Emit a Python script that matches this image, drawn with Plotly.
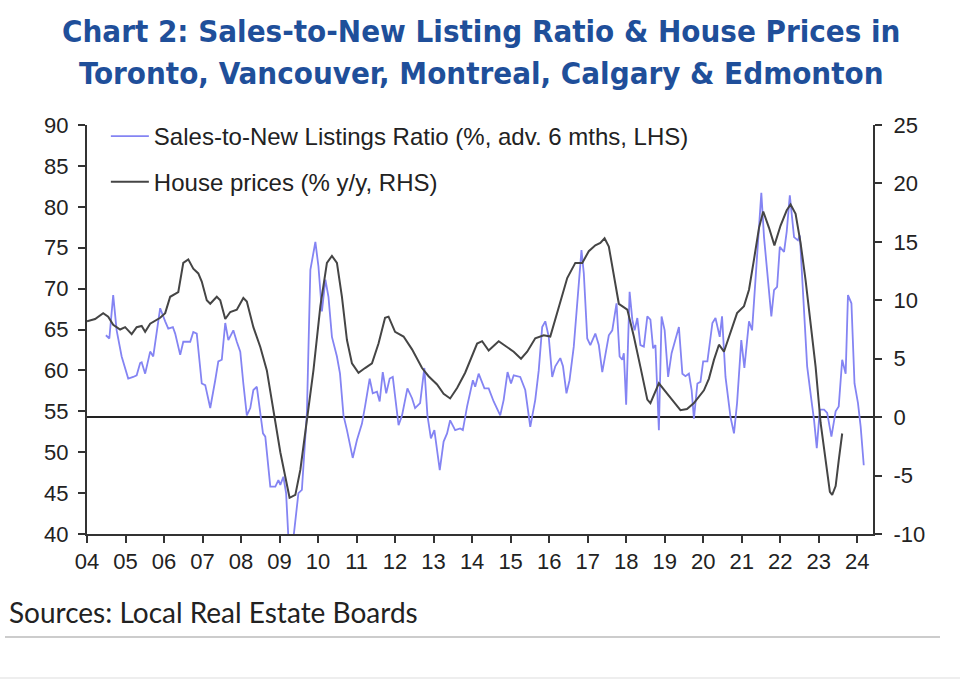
import plotly.graph_objects as go

# House prices (% y/y, RHS) - decimal year, value
hp_year = [2004.00, 2004.21, 2004.42, 2004.55, 2004.68, 2004.86, 2004.99, 2005.16, 2005.29, 2005.42,
           2005.51, 2005.64, 2005.90, 2006.03, 2006.16, 2006.37, 2006.50, 2006.63, 2006.76, 2006.89,
           2006.98, 2007.11, 2007.20, 2007.37, 2007.46, 2007.59, 2007.72, 2007.89, 2008.06, 2008.15,
           2008.32, 2008.50, 2008.67, 2008.84, 2009.02, 2009.26, 2009.41, 2009.54, 2009.71, 2009.88,
           2010.06, 2010.23, 2010.36, 2010.49, 2010.62, 2010.75, 2010.88, 2011.05, 2011.22, 2011.40,
           2011.57, 2011.74, 2011.83, 2012.00, 2012.22, 2012.44, 2012.70, 2012.87, 2013.09, 2013.26,
           2013.43, 2013.61, 2013.82, 2014.00, 2014.13, 2014.26, 2014.43, 2014.69, 2014.91, 2015.08,
           2015.27, 2015.43, 2015.64, 2015.86, 2016.03, 2016.21, 2016.47, 2016.68, 2016.86, 2017.03,
           2017.20, 2017.33, 2017.44, 2017.55, 2017.68, 2017.81, 2018.03, 2018.20, 2018.37, 2018.55,
           2018.63, 2018.85, 2019.07, 2019.24, 2019.41, 2019.58, 2019.76, 2020.02, 2020.15, 2020.28,
           2020.41, 2020.54, 2020.71, 2020.88, 2021.06, 2021.19, 2021.32, 2021.45, 2021.56, 2021.71,
           2021.85, 2022.01, 2022.17, 2022.27, 2022.40, 2022.53, 2022.66, 2022.79, 2022.92, 2023.05,
           2023.18, 2023.29, 2023.35, 2023.44, 2023.52, 2023.61]
hp_val = [8.2, 8.4, 8.9, 8.6, 7.9, 7.5, 7.7, 7.1, 7.7, 7.8,
          7.3, 8.0, 8.5, 8.9, 10.3, 10.7, 13.2, 13.5, 12.7, 12.3,
          11.6, 10.0, 9.7, 10.3, 10.0, 8.4, 9.0, 9.2, 10.2, 9.9,
          7.7, 6.0, 4.0, 0.6, -3.0, -6.9, -6.65, -4.5, -0.2, 4.0,
          9.5, 13.2, 13.8, 13.2, 10.3, 6.6, 4.6, 3.8, 4.2, 4.6,
          6.3, 8.5, 8.6, 7.3, 6.9, 5.8, 4.2, 3.5, 2.8, 2.0,
          1.6, 2.5, 3.8, 5.2, 6.3, 6.5, 5.7, 6.5, 6.0, 5.6,
          5.0, 5.6, 6.75, 7.0, 6.9, 8.9, 11.9, 13.2, 13.2, 14.2,
          14.7, 14.9, 15.3, 14.6, 12.0, 9.7, 9.2, 6.9, 4.3, 1.5,
          1.2, 2.9, 2.0, 1.3, 0.6, 0.7, 1.2, 2.3, 3.3, 4.9,
          6.2, 5.6, 7.2, 8.9, 9.5, 10.9, 13.5, 16.2, 17.6, 16.2,
          14.7, 16.4, 17.7, 18.2, 17.4, 14.9, 11.7, 8.0, 4.3, -0.5,
          -3.9, -6.4, -6.65, -5.9, -3.7, -1.4]

# Sales-to-New Listings Ratio (%, adv. 6 mths, LHS)
snlr_year = [2004.49, 2004.58, 2004.68, 2004.77, 2004.90, 2005.07, 2005.20, 2005.29, 2005.38, 2005.42,
             2005.51, 2005.64, 2005.72, 2005.90, 2006.03, 2006.11, 2006.23, 2006.29, 2006.42, 2006.50,
             2006.68, 2006.76, 2006.85, 2006.98, 2007.07, 2007.20, 2007.33, 2007.41, 2007.50, 2007.59,
             2007.67, 2007.80, 2007.89, 2007.98, 2008.06, 2008.15, 2008.24, 2008.32, 2008.41, 2008.50,
             2008.57, 2008.63, 2008.76, 2008.89, 2008.97, 2009.02, 2009.10, 2009.17, 2009.23, 2009.36,
             2009.49, 2009.58, 2009.71, 2009.80, 2009.93, 2010.01, 2010.10, 2010.19, 2010.27, 2010.36,
             2010.49, 2010.57, 2010.66, 2010.75, 2010.90, 2011.01, 2011.14, 2011.22, 2011.34, 2011.42,
             2011.53, 2011.60, 2011.68, 2011.77, 2011.86, 2011.94, 2012.09, 2012.18, 2012.32, 2012.44,
             2012.52, 2012.65, 2012.76, 2012.84, 2012.93, 2013.02, 2013.16, 2013.26, 2013.35, 2013.43,
             2013.56, 2013.69, 2013.76, 2013.87, 2014.02, 2014.08, 2014.17, 2014.32, 2014.43, 2014.56,
             2014.73, 2014.82, 2014.92, 2015.01, 2015.08, 2015.25, 2015.38, 2015.51, 2015.64, 2015.73,
             2015.82, 2015.90, 2015.99, 2016.08, 2016.16, 2016.29, 2016.36, 2016.45, 2016.53, 2016.64,
             2016.73, 2016.84, 2016.90, 2016.99, 2017.07, 2017.20, 2017.29, 2017.38, 2017.46, 2017.55,
             2017.64, 2017.75, 2017.83, 2017.90, 2017.94, 2018.00, 2018.09, 2018.16, 2018.22, 2018.29,
             2018.37, 2018.46, 2018.55, 2018.63, 2018.70, 2018.76, 2018.85, 2018.92, 2019.00, 2019.09,
             2019.18, 2019.28, 2019.37, 2019.46, 2019.54, 2019.63, 2019.70, 2019.76, 2019.85, 2019.93,
             2020.00, 2020.11, 2020.24, 2020.32, 2020.43, 2020.49, 2020.58, 2020.71, 2020.80, 2020.88,
             2020.99, 2021.07, 2021.19, 2021.27, 2021.36, 2021.45, 2021.51, 2021.58, 2021.68, 2021.77,
             2021.84, 2021.92, 2021.99, 2022.10, 2022.17, 2022.25, 2022.36, 2022.46, 2022.51, 2022.60,
             2022.70, 2022.81, 2022.88, 2022.95, 2023.03, 2023.14, 2023.22, 2023.33, 2023.44, 2023.52,
             2023.61, 2023.70, 2023.76, 2023.85, 2023.93, 2024.02, 2024.09, 2024.17]
snlr_val = [64.3, 63.9, 69.2, 64.9, 61.7, 59.0, 59.2, 59.4, 60.9, 61.0,
            59.6, 62.3, 61.7, 67.6, 66.0, 65.1, 65.3, 64.5, 61.9, 63.5,
            63.5, 64.7, 64.5, 58.4, 58.2, 55.4, 58.8, 61.1, 61.3, 65.8,
            63.7, 64.9, 63.5, 62.3, 58.4, 54.5, 55.4, 57.6, 58.0, 54.5,
            52.3, 51.9, 45.8, 45.8, 46.6, 46.0, 47.0, 45.0, 39.5, 39.5,
            45.0, 45.4, 54.8, 72.3, 75.7, 72.7, 67.2, 71.1, 69.0, 64.1,
            61.7, 59.6, 54.5, 52.7, 49.3, 51.5, 53.5, 55.6, 59.0, 57.2,
            57.4, 56.2, 59.8, 57.2, 59.0, 59.2, 53.3, 54.5, 57.8, 56.6,
            55.4, 56.0, 60.3, 54.5, 51.7, 52.7, 47.8, 51.3, 52.3, 53.9,
            52.7, 52.9, 52.7, 55.6, 58.8, 58.0, 59.6, 57.8, 57.8, 56.2,
            54.5, 56.4, 59.8, 58.4, 59.4, 59.2, 57.6, 53.1, 56.4, 60.0,
            65.3, 66.0, 64.1, 59.2, 60.5, 61.5, 60.5, 57.2, 58.8, 62.9,
            68.2, 74.7, 71.9, 63.9, 63.1, 64.5, 63.1, 59.8, 61.9, 64.3,
            64.9, 68.2, 61.7, 61.3, 62.1, 55.8, 69.6, 66.2, 64.9, 66.4,
            63.1, 62.9, 66.6, 66.2, 62.7, 63.1, 52.7, 66.6, 64.9, 59.2,
            62.1, 63.7, 65.3, 59.6, 59.3, 59.6, 57.6, 54.1, 58.4, 58.6,
            61.1, 61.1, 65.8, 66.4, 64.1, 66.6, 59.2, 54.3, 52.3, 56.0,
            63.7, 60.3, 66.0, 64.9, 71.1, 77.2, 81.7, 76.3, 71.1, 66.6,
            69.8, 70.2, 75.1, 74.5, 77.0, 81.4, 76.3, 75.9, 76.5, 69.0,
            60.5, 56.4, 53.9, 50.5, 55.2, 55.2, 54.8, 51.9, 55.0, 55.6,
            61.3, 59.6, 69.2, 68.2, 58.4, 56.0, 53.1, 48.4]

x_tickvals = list(range(2004, 2025))
x_ticktext = ["%02d" % (v % 100) for v in x_tickvals]
y2_tickvals = [-10, -5, 0, 5, 10, 15, 20, 25]
y2_ticktext = [str(v) for v in y2_tickvals]

title_lines = ["Chart 2: Sales-to-New Listing Ratio & House Prices in",
               "Toronto, Vancouver, Montreal, Calgary & Edmonton"]

AXIS = "#333333"
TICKFONT = dict(family="Liberation Sans, Arial, sans-serif", size=22, color="#222222")
LEGFONT = dict(family="Liberation Sans, Arial, sans-serif", size=24, color="#222222")

fig = go.Figure()
fig.add_trace(go.Scatter(
    x=snlr_year, y=snlr_val, mode="lines", yaxis="y",
    name="Sales-to-New Listings Ratio (%, adv. 6 mths, LHS)",
    line=dict(color="#8484f3", width=1.8), legend="legend"))
fig.add_trace(go.Scatter(
    x=hp_year, y=hp_val, mode="lines", yaxis="y2",
    name="House prices (% y/y, RHS)",
    line=dict(color="#454545", width=2), legend="legend2"))

fig.update_layout(
    width=960, height=680,
    margin=dict(l=87, r=87, t=125, b=146),
    paper_bgcolor="white", plot_bgcolor="white",
    xaxis=dict(range=[2004, 2024.41], tickvals=x_tickvals, ticktext=x_ticktext,
               showline=True, linecolor=AXIS, linewidth=2, ticks="outside", ticklen=7,
               tickwidth=2, tickcolor=AXIS, showgrid=False, zeroline=False, tickfont=TICKFONT),
    yaxis=dict(range=[40, 90], dtick=5, tick0=40, showline=True, linecolor=AXIS, linewidth=2,
               ticks="outside", ticklen=7, tickwidth=2, tickcolor=AXIS, showgrid=False,
               zeroline=False, tickfont=TICKFONT, ticklabelstandoff=5),
    yaxis2=dict(range=[-10, 25], tickvals=y2_tickvals, ticktext=y2_ticktext, overlaying="y", side="right",
                showline=True, linecolor=AXIS, linewidth=2, ticks="outside", ticklen=7,
                tickwidth=2, tickcolor=AXIS, showgrid=False, zeroline=True,
                zerolinecolor="#222222", zerolinewidth=2, tickfont=TICKFONT, ticklabelstandoff=7),
    legend=dict(x=0.024, y=1.027, xanchor="left", yanchor="top", bgcolor="rgba(0,0,0,0)",
                font=LEGFONT, itemwidth=38),
    legend2=dict(x=0.024, y=0.915, xanchor="left", yanchor="top", bgcolor="rgba(0,0,0,0)",
                 font=LEGFONT, itemwidth=38),
    showlegend=True,
)

TITLEFONT = dict(family="DejaVu Sans Condensed, Liberation Sans Narrow, sans-serif", size=31,
                 color="#1f4f9a", weight="bold")
for line_text, py in zip(title_lines, [31, 73]):
    fig.add_annotation(text=line_text, xref="paper", yref="paper",
                       x=(481 - 87) / 786, y=(534 - py) / 409, xanchor="center", yanchor="middle",
                       showarrow=False, font=TITLEFONT)

fig.add_annotation(text="Sources: Local Real Estate Boards", xref="paper", yref="paper",
                   x=-80/786, y=-(612-534)/409, xanchor="left", yanchor="middle", showarrow=False,
                   font=dict(family="Lato, Open Sans, sans-serif", size=28, color="#222222"))
fig.add_shape(type="line", xref="paper", yref="paper", x0=-82/786, x1=853/786,
              y0=-(637-534)/409, y1=-(637-534)/409, line=dict(color="#cccccc", width=2))
fig.add_shape(type="line", xref="paper", yref="paper", x0=-87/786, x1=873/786,
              y0=-(678-534)/409, y1=-(678-534)/409, line=dict(color="#eeeeee", width=2))

fig.write_html("out.html")
